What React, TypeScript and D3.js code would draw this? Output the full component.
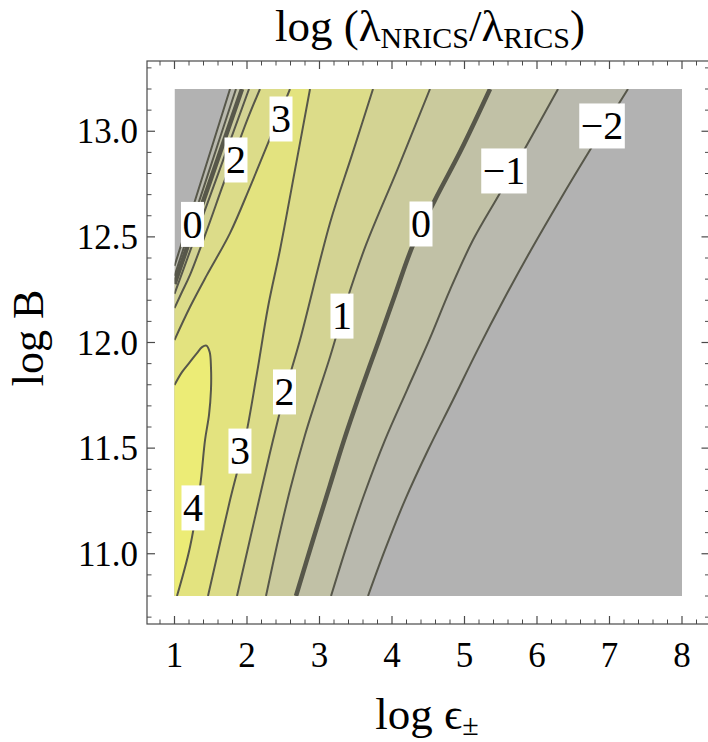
import React from "react";
import * as d3 from "d3";

type P = [number, number];

// ---- data ----
const levels = [-2, -1, 0, 1, 2, 3, 4];
const bandColors = ["#b2b2b2", "#b9b9ae", "#c1c1a6", "#caca9d", "#d3d393", "#dcdc89", "#e3e37f", "#ecec76"];

const xMajor = [1, 2, 3, 4, 5, 6, 7, 8];
const xMajorLabels = ["1", "2", "3", "4", "5", "6", "7", "8"];
const yMajor = [11.0, 11.5, 12.0, 12.5, 13.0];
const yMajorLabels = ["11.0", "11.5", "12.0", "12.5", "13.0"];

// contour branches (log ε, log B)
const lvlM2Left: P[] = [[1.0, 12.362], [1.383, 12.781], [1.766, 13.2]];
const lvlM2Right: P[] = [[7.255, 13.2], [6.731, 12.911], [6.317, 12.675], [5.917, 12.438], [5.538, 12.201], [5.179, 11.964], [4.841, 11.728], [4.497, 11.491], [4.179, 11.254], [3.903, 11.018], [3.669, 10.8]];
const lvlM1Left: P[] = [[1.0, 12.315], [1.424, 12.757], [1.848, 13.2]];
const lvlM1Right: P[] = [[6.29, 13.2], [5.876, 12.944], [5.49, 12.708], [5.117, 12.485], [4.8, 12.249], [4.514, 12.012], [4.207, 11.775], [3.903, 11.538], [3.614, 11.278], [3.379, 11.041], [3.159, 10.8]];
const lvl0Left: P[] = [[1.0, 12.277], [1.466, 12.738], [1.931, 13.2]];
const lvl0Right: P[] = [[5.352, 13.2], [4.952, 12.911], [4.593, 12.675], [4.29, 12.462], [4.041, 12.225], [3.807, 11.998], [3.559, 11.761], [3.338, 11.538], [3.145, 11.325], [2.91, 11.065], [2.676, 10.8]];
const lvl1Left: P[] = [[1.0, 12.23], [1.514, 12.715], [2.028, 13.2]];
const lvl1Right: P[] = [[4.524, 13.2], [4.083, 12.826], [3.641, 12.462], [3.379, 12.201], [3.145, 11.931], [2.952, 11.728], [2.8, 11.562], [2.593, 11.302], [2.414, 11.041], [2.262, 10.8]];
const lvl2Left: P[] = [[1.0, 12.163], [1.103, 12.239], [1.214, 12.32], [1.448, 12.533], [1.669, 12.746], [1.848, 12.911], [2.014, 13.063], [2.179, 13.2]];
const lvl2Right: P[] = [[3.738, 13.2], [3.448, 12.888], [3.145, 12.566], [2.731, 12.012], [2.524, 11.766], [2.359, 11.538], [2.207, 11.316], [1.862, 10.8]];
const lvl3Left: P[] = [[1.0, 12.012], [1.214, 12.168], [1.448, 12.32], [1.766, 12.518], [2.041, 12.736], [2.29, 12.944], [2.593, 13.2]];
const lvl3Right: P[] = [[2.869, 13.2], [2.662, 12.817], [2.455, 12.438], [2.29, 12.168], [2.138, 11.856], [1.972, 11.538], [1.766, 11.254], [1.462, 10.8]];
const lvl4: P[] = [[1.0, 11.799], [1.103, 11.86], [1.214, 11.908], [1.31, 11.95], [1.38, 11.978], [1.44, 11.985], [1.485, 11.955], [1.503, 11.884], [1.503, 11.775], [1.476, 11.657], [1.421, 11.538], [1.352, 11.316], [1.214, 11.032], [1.034, 10.8]];

const labelX = [1.248, 1.848, 2.469, 1.255, 1.903, 2.517, 3.31, 4.4, 5.545, 6.897];
const labelY = [12.559, 12.864, 13.058, 11.217, 11.486, 11.766, 12.125, 12.561, 12.812, 13.025];
const labelText = ["0", "2", "3", "4", "3", "2", "1", "0", "\u22121", "\u22122"];

const contours = [
  { level: levels[0], left: lvlM2Left, right: lvlM2Right },
  { level: levels[1], left: lvlM1Left, right: lvlM1Right },
  { level: levels[2], left: lvl0Left, right: lvl0Right },
  { level: levels[3], left: lvl1Left, right: lvl1Right },
  { level: levels[4], left: lvl2Left, right: lvl2Right },
  { level: levels[5], left: lvl3Left, right: lvl3Right },
  { level: levels[6], left: lvl4, right: [] as P[] },
];

// ---- layout ----
const W = 708;
const H = 742;
const xDomain = [1, 8];
const yDomain = [10.8, 13.2];
const x = d3.scaleLinear().domain(xDomain).range([174.5, 682]);
const y = d3.scaleLinear().domain(yDomain).range([596, 89]);
const frameX = [x.invert(147), x.invert(709.5)];
const frameY = [y.invert(624), y.invert(61)];

const FONT = "'Liberation Serif', 'Times New Roman', serif";
const lineColor = "#57574a";
const frameColor = "#4a4a4a";

const line = d3
  .line<P>()
  .x((d) => x(d[0]))
  .y((d) => y(d[1]))
  .curve(d3.curveCatmullRom.alpha(0.5));

function region(c: { left: P[]; right: P[] }) {
  let d = line(c.left) || "";
  if (c.right.length) d += (line(c.right) || "").replace(/^M/, "L");
  d += `L${x(xDomain[0])},${y(yDomain[0])}Z`;
  return d;
}

function approxWidth(t: string, fs: number) {
  let w = 0;
  for (const ch of t) w += ch === "\u2212" ? 0.564 : 0.5;
  return w * fs;
}

export default function App() {
  const fx0 = x(frameX[0]);
  const fx1 = x(frameX[1]);
  const fy0 = y(frameY[0]);
  const fy1 = y(frameY[1]);

  const xMinor = d3.range(Math.ceil(frameX[0] * 5), Math.floor(frameX[1] * 5) + 1).map((k) => k / 5).filter((v) => Math.abs(v - Math.round(v)) > 1e-6);
  const yMinor = d3.range(Math.ceil(frameY[0] * 10), Math.floor(frameY[1] * 10) + 1).map((k) => k / 10).filter((v) => Math.abs(v * 2 - Math.round(v * 2)) > 1e-6);

  const majLen = 8;
  const minLen = 4.5;
  const lfs = 40;

  return (
    <svg width={W} height={H} style={{ position: "absolute", left: 0, top: 0, background: "#fff" }} fontFamily={FONT}>
      <defs>
        <clipPath id="plotClip">
          <rect x={x(xDomain[0])} y={y(yDomain[1])} width={x(xDomain[1]) - x(xDomain[0])} height={y(yDomain[0]) - y(yDomain[1])} />
        </clipPath>
      </defs>
      <g clipPath="url(#plotClip)">
        <rect x={x(xDomain[0])} y={y(yDomain[1])} width={x(xDomain[1]) - x(xDomain[0])} height={y(yDomain[0]) - y(yDomain[1])} fill={bandColors[0]} />
        {contours.map((c, i) => (
          <path key={"f" + i} d={region(c)} fill={bandColors[i + 1]} />
        ))}
        {contours.map((c, i) =>
          [c.left, c.right]
            .filter((b) => b.length)
            .map((b, j) => (
              <path key={`l${i}-${j}`} d={line(b) || ""} fill="none" stroke={lineColor} strokeWidth={c.level === 0 ? 4.5 : 2} />
            ))
        )}
      </g>
      {labelText.map((t, i) => {
        const cx = x(labelX[i]);
        const cy = y(labelY[i]);
        const w = approxWidth(t, lfs) + 3;
        const h = 45;
        return (
          <g key={"lab" + i}>
            <rect x={cx - w / 2} y={cy - h / 2} width={w} height={h} fill="#fff" />
            <text x={cx} y={cy + 0.335 * lfs} textAnchor="middle" fontSize={lfs} fill="#000">
              {t}
            </text>
          </g>
        );
      })}
      {/* frame */}
      <rect x={fx0} y={fy1} width={fx1 - fx0} height={fy0 - fy1} fill="none" stroke={frameColor} strokeWidth={1.2} />
      {xMajor.map((v) => (
        <g key={"xM" + v}>
          <line x1={x(v)} x2={x(v)} y1={fy0} y2={fy0 - majLen} stroke={frameColor} strokeWidth={1.2} />
          <line x1={x(v)} x2={x(v)} y1={fy1} y2={fy1 + majLen} stroke={frameColor} strokeWidth={1.2} />
        </g>
      ))}
      {xMinor.map((v) => (
        <g key={"xm" + v}>
          <line x1={x(v)} x2={x(v)} y1={fy0} y2={fy0 - minLen} stroke={frameColor} strokeWidth={1} />
          <line x1={x(v)} x2={x(v)} y1={fy1} y2={fy1 + minLen} stroke={frameColor} strokeWidth={1} />
        </g>
      ))}
      {yMajor.map((v) => (
        <g key={"yM" + v}>
          <line x1={fx0} x2={fx0 + majLen} y1={y(v)} y2={y(v)} stroke={frameColor} strokeWidth={1.2} />
          <line x1={fx1} x2={fx1 - majLen} y1={y(v)} y2={y(v)} stroke={frameColor} strokeWidth={1.2} />
        </g>
      ))}
      {yMinor.map((v) => (
        <g key={"ym" + v}>
          <line x1={fx0} x2={fx0 + minLen} y1={y(v)} y2={y(v)} stroke={frameColor} strokeWidth={1} />
          <line x1={fx1} x2={fx1 - minLen} y1={y(v)} y2={y(v)} stroke={frameColor} strokeWidth={1} />
        </g>
      ))}
      {xMajor.map((v, i) => (
        <text key={"xl" + v} x={x(v)} y={667} textAnchor="middle" fontSize={35} fill="#000">
          {xMajorLabels[i]}
        </text>
      ))}
      {yMajor.map((v, i) => (
        <text key={"yl" + v} x={138} y={y(v) + 12} textAnchor="end" fontSize={35} fill="#000">
          {yMajorLabels[i]}
        </text>
      ))}
      {/* title */}
      <text x={430} y={41} textAnchor="middle" fontSize={45} fill="#000">
        log (λ<tspan fontSize={30} dy={7}>NRICS</tspan>
        <tspan dy={-7}>/λ</tspan>
        <tspan fontSize={30} dy={7}>RICS</tspan>
        <tspan dy={-7}>)</tspan>
      </text>
      {/* axis labels */}
      <text x={427} y={729} textAnchor="middle" fontSize={45} fill="#000">
        log ϵ<tspan fontSize={30} dy={6}>±</tspan>
      </text>
      <text transform="translate(43,338) rotate(-90)" textAnchor="middle" fontSize={44} fill="#000">
        log B
      </text>
    </svg>
  );
}
